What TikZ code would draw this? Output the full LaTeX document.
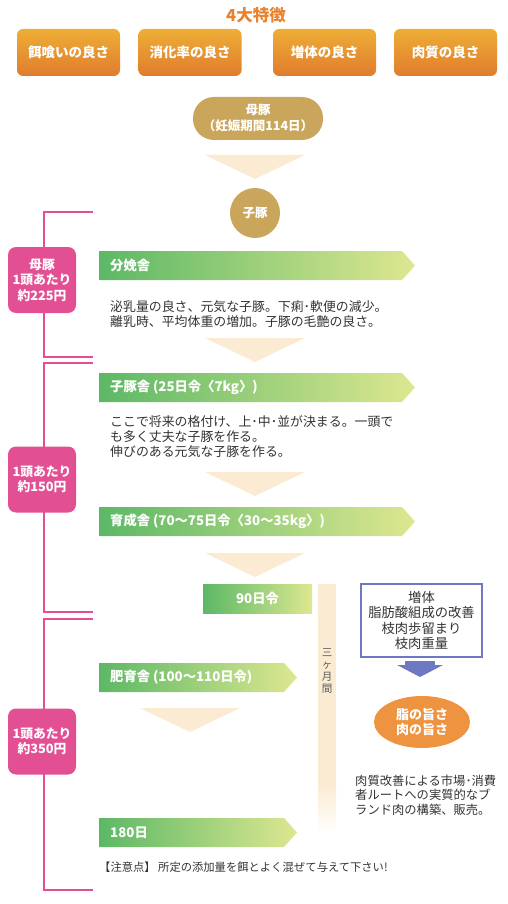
\documentclass[tikz,border=0pt]{standalone}
\usepackage{fontspec}
\setmainfont{Noto Sans CJK JP}
\usetikzlibrary{shapes.geometric}
\definecolor{featTop}{HTML}{EEAE36}
\definecolor{featBot}{HTML}{E07C2D}
\definecolor{titleOrange}{HTML}{E8822E}
\definecolor{sowGold}{HTML}{C9A65B}
\definecolor{chevronFill}{HTML}{FBEBD3}
\definecolor{stageL}{HTML}{5CB866}
\definecolor{stageR}{HTML}{DDE790}
\definecolor{costPink}{HTML}{E24F93}
\definecolor{effectBlue}{HTML}{6F79C1}
\definecolor{tasteOrange}{HTML}{EE9340}
\definecolor{bodyText}{HTML}{333333}
\tikzset{
    feature/.style   = {shade, top color=featTop, bottom color=featBot,
                        rounded corners=6pt, minimum width=103pt,
                        minimum height=47pt, text=white,
                        font=\fontsize{13.5}{16}\selectfont\bfseries},
    sow/.style       = {fill=sowGold, text=white, align=center,
                        font=\fontsize{12.5}{16}\selectfont\bfseries},
    stagetext/.style = {text=white, inner sep=0pt,
                        font=\fontsize{13.3}{15}\selectfont\bfseries},
    body/.style      = {text=bodyText, align=left, inner sep=0pt,
                        font=\fontsize{12.9}{15.4}\selectfont},
    costbox/.style   = {fill=costPink, rounded corners=8pt, text=white,
                        minimum width=68pt, minimum height=66pt,
                        align=center, inner sep=0pt,
                        font=\fontsize{12.8}{15.5}\selectfont\bfseries},
    bracket/.style   = {draw=costPink, line width=2.4pt},
    effect/.style    = {draw=effectBlue, line width=2pt, fill=white,
                        minimum width=121pt, minimum height=73pt,
                        align=center, text=bodyText,
                        font=\fontsize{13.3}{15.5}\selectfont},
    taste/.style     = {ellipse, fill=tasteOrange, text=white,
                        minimum width=96pt, minimum height=52pt,
                        align=center, inner sep=0pt,
                        font=\fontsize{13}{15.5}\selectfont\bfseries}
}
\newcommand{\stagearrow}[4]{%
    \shade[left color=stageL, right color=stageR]
        (99,#2) -- (#3-13,#2) -- (#3,#2+14.5) -- (#3-13,#2+29)
        -- (99,#2+29) -- cycle;
    \node[stagetext, anchor=west] (#1) at (110,#2+14.5) {#4};
}
\newcommand{\downchevron}[3]{%
    \fill[chevronFill] (#1-#3,#2) -- (#1+#3,#2) -- (#1,#2+24) -- cycle;
}
\newcommand{\costbracket}[2]{%
    \draw[bracket] (93,#1) -| (44,#2) -- (93,#2);
}

\begin{document}
\begin{tikzpicture}[x=1pt, y=-1pt]
\useasboundingbox (0,0) rectangle (508,904);

% Four features along the top.
\node[text=titleOrange, font=\fontsize{16.5}{18}\selectfont\bfseries]
    (title) at (256,15) {4大特徴};
\node[feature] (feed)   at (68.5,52.5)  {餌喰いの良さ};
\node[feature] (digest) at (190,52.5)   {消化率の良さ};
\node[feature] (gain)   at (324.5,52.5) {増体の良さ};
\node[feature] (meat)   at (445.5,52.5) {肉質の良さ};

% Sow and piglet.
\node[sow, rounded corners=21pt, minimum width=130pt, minimum height=43pt,
      inner sep=0pt] (sow) at (258,118.5) {母豚\\（妊娠期間114日）};
\downchevron{255}{155}{50}
\node[sow, circle, minimum size=50pt, inner sep=0pt] (piglet) at (255,213) {子豚};

% Cost brackets on the left.
\costbracket{212}{357}
\costbracket{363}{612}
\costbracket{619}{890}
\node[costbox] (cost1) at (42,280)   {母豚\\1頭あたり\\約225円};
\node[costbox] (cost2) at (42,479.5) {1頭あたり\\約150円};
\node[costbox] (cost3) at (42,741.5) {1頭あたり\\約350円};

% Stages of rearing.
\stagearrow{farrow}{251}{415}{分娩舎}
\node[body, anchor=north west] (farrownote) at (110,300)
    {泌乳量の良さ、元気な子豚。下痢･軟便の減少。\\離乳時、平均体重の増加。子豚の毛艶の良さ。};
\downchevron{255}{338}{50}
\stagearrow{nursery}{373}{415}{子豚舎 (25日令〈7kg〉)}
\node[body, anchor=north west] (nurserynote) at (110,415)
    {ここで将来の格付け、上･中･並が決まる。一頭で\\も多く丈夫な子豚を作る。\\伸びのある元気な子豚を作る。};
\downchevron{255}{472}{50}
\stagearrow{grower}{507}{415}{育成舎 (70～75日令〈30～35kg〉)}
\downchevron{255}{553}{50}
\shade[left color=stageL, right color=stageR] (203,584) rectangle (312,613);
\node[stagetext] (day90) at (257.5,598.5) {90日令};
\stagearrow{finish}{663}{297}{肥育舎 (100～110日令)}
\downchevron{190}{708}{50}
\stagearrow{ship}{818}{297}{180日}
\node[body, anchor=west, font=\fontsize{11.3}{14}\selectfont] (caution) at (99,867)
    {【注意点】 所定の添加量を餌とよく混ぜて与えて下さい!};

% Three-month band and its effects.
\fill[chevronFill] (318,584) rectangle (336,785);
\shade[top color=chevronFill, bottom color=white] (318,785) rectangle (336,834);
\node[text=bodyText!80, align=center, inner sep=0pt,
      font=\fontsize{10.5}{11.8}\selectfont] (months) at (327,671)
    {三\\ヶ\\月\\間};
\node[effect] (effects) at (421.5,620.5) {増体\\脂肪酸組成の改善\\枝肉歩留まり\\枝肉重量};
\fill[effectBlue] (405,661) rectangle (435,665);
\fill[effectBlue] (397,665) -- (443,665) -- (420,677) -- cycle;
\node[taste] (tastes) at (422,722) {脂の旨さ\\肉の旨さ};
\node[body, anchor=north west, font=\fontsize{12.3}{14.2}\selectfont] (brandnote) at (355,775)
    {肉質改善による市場･消費\\者ルートへの実質的なブ\\ランド肉の構築、販売。};

\end{tikzpicture}
\end{document}
